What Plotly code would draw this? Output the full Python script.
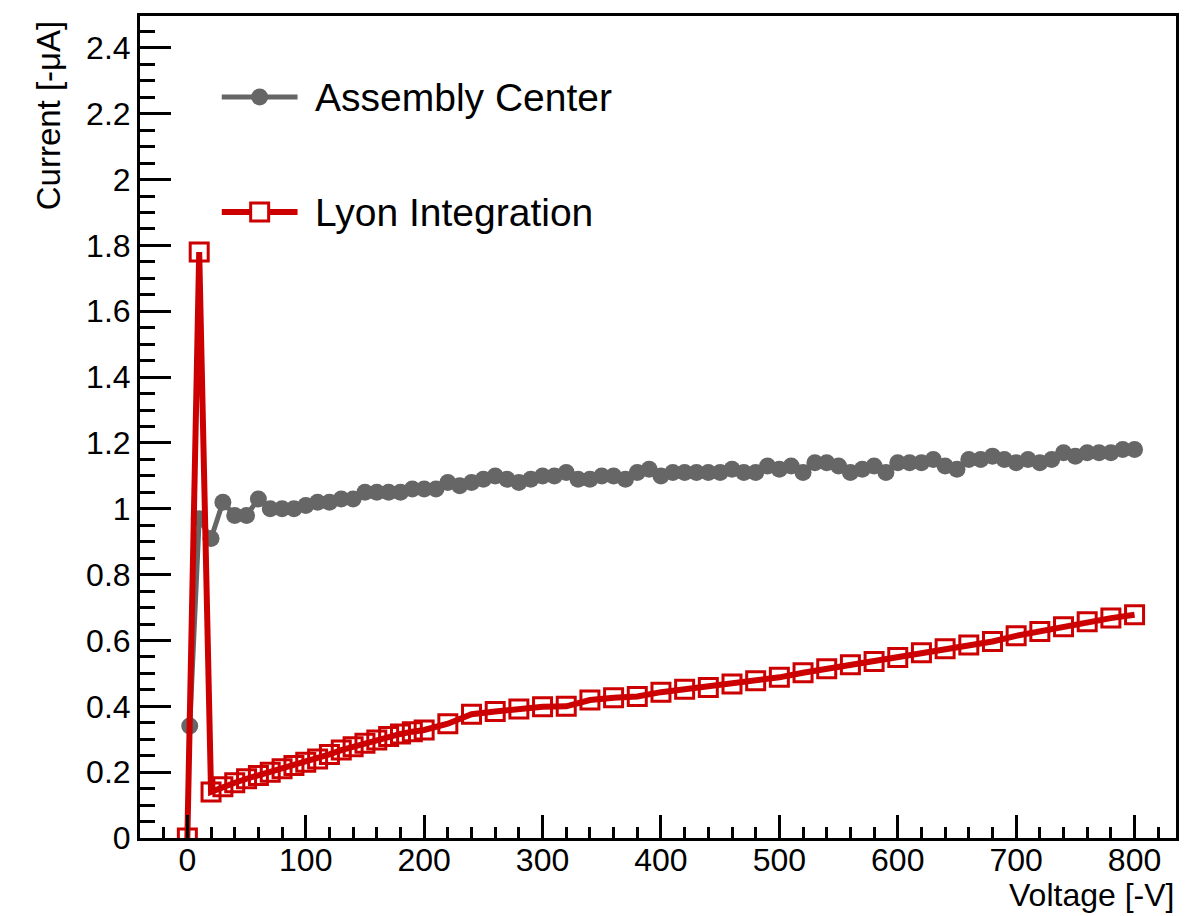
import plotly.graph_objects as go

# ---------------- data ----------------
ac_voltage = [2, 10, 20, 30, 40, 50, 60, 70, 80, 90,
              100, 110, 120, 130, 140, 150, 160, 170, 180, 190,
              200, 210, 220, 230, 240, 250, 260, 270, 280, 290,
              300, 310, 320, 330, 340, 350, 360, 370, 380, 390,
              400, 410, 420, 430, 440, 450, 460, 470, 480, 490,
              500, 510, 520, 530, 540, 550, 560, 570, 580, 590,
              600, 610, 620, 630, 640, 650, 660, 670, 680, 690,
              700, 710, 720, 730, 740, 750, 760, 770, 780, 790, 800]
ac_current = [0.34, 0.97, 0.91, 1.02, 0.98, 0.98, 1.03, 1.00, 1.00, 1.00,
              1.01, 1.02, 1.02, 1.03, 1.03, 1.05, 1.05, 1.05, 1.05, 1.06,
              1.06, 1.06, 1.08, 1.07, 1.08, 1.09, 1.10, 1.09, 1.08, 1.09,
              1.10, 1.10, 1.11, 1.09, 1.09, 1.10, 1.10, 1.09, 1.11, 1.12,
              1.10, 1.11, 1.11, 1.11, 1.11, 1.11, 1.12, 1.11, 1.11, 1.13,
              1.12, 1.13, 1.11, 1.14, 1.14, 1.13, 1.11, 1.12, 1.13, 1.11,
              1.14, 1.14, 1.14, 1.15, 1.13, 1.12, 1.15, 1.15, 1.16, 1.15,
              1.14, 1.15, 1.14, 1.15, 1.17, 1.16, 1.17, 1.17, 1.17, 1.18, 1.18]

lyon_voltage = [0, 10, 20, 30, 40, 50, 60, 70, 80, 90,
                100, 110, 120, 130, 140, 150, 160, 170, 180, 190, 200,
                220, 240, 260, 280, 300, 320, 340, 360, 380, 400,
                420, 440, 460, 480, 500, 520, 540, 560, 580, 600,
                620, 640, 660, 680, 700, 720, 740, 760, 780, 800]
lyon_current = [0.0, 1.78, 0.14, 0.156, 0.168, 0.18, 0.19, 0.20, 0.21, 0.22,
                0.23, 0.24, 0.254, 0.267, 0.277, 0.288, 0.298, 0.308, 0.316, 0.323, 0.328,
                0.347, 0.376, 0.384, 0.392, 0.399, 0.40, 0.419, 0.426, 0.43, 0.443,
                0.452, 0.457, 0.468, 0.478, 0.488, 0.502, 0.514, 0.526, 0.536, 0.548,
                0.563, 0.575, 0.586, 0.597, 0.614, 0.627, 0.642, 0.657, 0.668, 0.678]

series_names = ["Assembly Center", "Lyon Integration"]
x_title = "Voltage [-V]"
y_title = "Current [-μA]"

GRAY = "#666666"
RED = "#CC0000"
FONT = "Liberation Sans, Arial, Helvetica, sans-serif"

fig = go.Figure()
fig.add_trace(go.Scatter(
    x=ac_voltage, y=ac_current, mode="lines+markers", name=series_names[0],
    line=dict(color=GRAY, width=5),
    marker=dict(symbol="circle", size=17, color=GRAY, line=dict(width=0)),
    showlegend=False))
fig.add_trace(go.Scatter(
    x=lyon_voltage, y=lyon_current, mode="lines+markers", name=series_names[1],
    line=dict(color=RED, width=6),
    marker=dict(symbol="square-open", size=18, color=RED, line=dict(width=3, color=RED)),
    showlegend=False))

# plot-area geometry (pixels)
L, R, T, B = 140, 1179, 16, 838
W, H = R - L, B - T

def px(xp):
    return (xp - L) / W

def py(yp):
    return (B - yp) / H

axis_common = dict(
    showgrid=False, zeroline=False, showline=True, linecolor="black", linewidth=3,
    mirror=True, ticks="inside", tickcolor="black", tickwidth=3,
    tickfont=dict(family=FONT, size=32, color="black"),
)
fig.update_xaxes(range=[-40, 835], tick0=0, dtick=100, ticklen=23,
                 ticklabelstandoff=-8,
                 minor=dict(ticks="inside", dtick=20, tick0=0, ticklen=11,
                            tickwidth=3, tickcolor="black", showgrid=False),
                 **axis_common)
fig.update_yaxes(range=[0, 2.497], tick0=0, dtick=0.2, ticklen=31,
                 minor=dict(ticks="inside", dtick=0.05, tick0=0, ticklen=15,
                            tickwidth=3, tickcolor="black", showgrid=False),
                 **axis_common)

annotations = [
    dict(text=x_title, xref="paper", yref="paper", x=1.0, y=py(895),
         xanchor="right", yanchor="middle", showarrow=False,
         font=dict(family=FONT, size=32, color="black")),
    dict(text=y_title, xref="paper", yref="paper", x=px(48), y=py(18),
         xanchor="center", yanchor="top", textangle=-90, showarrow=False,
         font=dict(family=FONT, size=33, color="black")),
    dict(text=series_names[0], xref="paper", yref="paper", x=px(313), y=py(97),
         xanchor="left", yanchor="middle", showarrow=False,
         font=dict(family=FONT, size=39, color="black")),
    dict(text=series_names[1], xref="paper", yref="paper", x=px(313), y=py(212),
         xanchor="left", yanchor="middle", showarrow=False,
         font=dict(family=FONT, size=39, color="black")),
]

shapes = [
    # legend entry 1
    dict(type="line", xref="paper", yref="paper", x0=px(222), x1=px(298),
         y0=py(97), y1=py(97), line=dict(color=GRAY, width=5)),
    dict(type="circle", xref="paper", yref="paper", xsizemode="pixel", ysizemode="pixel",
         xanchor=px(260), yanchor=py(97), x0=-8.5, x1=8.5, y0=-8.5, y1=8.5,
         fillcolor=GRAY, line=dict(width=0)),
    # legend entry 2
    dict(type="line", xref="paper", yref="paper", x0=px(222), x1=px(298),
         y0=py(212), y1=py(212), line=dict(color=RED, width=6)),
    dict(type="rect", xref="paper", yref="paper", xsizemode="pixel", ysizemode="pixel",
         xanchor=px(260), yanchor=py(212), x0=-9, x1=9, y0=-9, y1=9,
         fillcolor="white", line=dict(color=RED, width=3)),
]

fig.update_layout(
    width=1188, height=916,
    margin=dict(l=L, r=1188 - R, t=T, b=916 - B, pad=0),
    paper_bgcolor="white", plot_bgcolor="white",
    font=dict(family=FONT, color="black"),
    annotations=annotations, shapes=shapes,
    showlegend=False,
)

fig.write_html("out.html",
               config={"displayModeBar": False},
               post_script="document.body.style.margin='0';document.body.style.overflow='hidden';")
